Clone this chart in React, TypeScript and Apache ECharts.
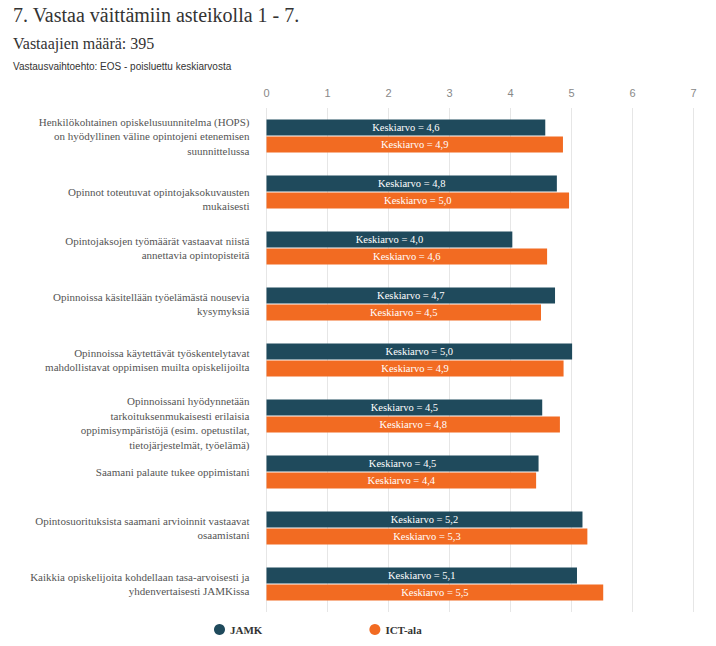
import React, { useEffect, useRef } from "react";
import * as echarts from "echarts";

const categories = [
  "Henkilökohtainen opiskelusuunnitelma (HOPS)\non hyödyllinen väline opintojeni etenemisen\nsuunnittelussa",
  "Opinnot toteutuvat opintojaksokuvausten\nmukaisesti",
  "Opintojaksojen työmäärät vastaavat niistä\nannettavia opintopisteitä",
  "Opinnoissa käsitellään työelämästä nousevia\nkysymyksiä",
  "Opinnoissa käytettävät työskentelytavat\nmahdollistavat oppimisen muilta opiskelijoilta",
  "Opinnoissani hyödynnetään\ntarkoituksenmukaisesti erilaisia\noppimisympäristöjä (esim. opetustilat,\ntietojärjestelmät, työelämä)",
  "Saamani palaute tukee oppimistani",
  "Opintosuorituksista saamani arvioinnit vastaavat\nosaamistani",
  "Kaikkia opiskelijoita kohdellaan tasa-arvoisesti ja\nyhdenvertaisesti JAMKissa",
];

const jamkValues = [4.57, 4.76, 4.03, 4.73, 5.01, 4.52, 4.46, 5.18, 5.09];
const ictValues = [4.86, 4.96, 4.6, 4.5, 4.87, 4.81, 4.42, 5.26, 5.52];

const seriesNames = ["JAMK", "ICT-ala"];
const xTicks = [0, 1, 2, 3, 4, 5, 6, 7];

const titleText = "7. Vastaa väittämiin asteikolla 1 - 7.";
const subtitleText = "Vastaajien määrä: 395";
const noteText = "Vastausvaihtoehto: EOS - poisluettu keskiarvosta";

const DARK = "#1f4a5c";
const ORANGE = "#f26b22";
const SERIF = "'Liberation Serif', 'DejaVu Serif', serif";
const SANS = "'Liberation Sans', Arial, sans-serif";

// labels that sit a little lower than their band in the reference
const loweredLabels = [1, 5];

export default function App() {
  const ref = useRef<HTMLDivElement>(null);
  useEffect(() => {
    if (!ref.current) return;
    const chart = echarts.init(ref.current, undefined, { renderer: "svg" });
    const labelFmt = (p: any) => "Keskiarvo = " + Number(p.value).toFixed(1).replace(".", ",");
    chart.setOption({
      animation: false,
      backgroundColor: "#ffffff",
      graphic: [
        {
          type: "text",
          left: 13,
          top: 5,
          style: { text: titleText, font: `20px ${SERIF}`, fill: "#333333" },
        },
        {
          type: "text",
          left: 13,
          top: 35,
          style: { text: subtitleText, font: `16px ${SERIF}`, fill: "#333333" },
        },
        {
          type: "text",
          left: 13,
          top: 61,
          style: { text: noteText, font: `10px ${SANS}`, fill: "#333333" },
        },
      ],
      legend: {
        data: seriesNames,
        left: 209,
        top: 619,
        icon: "circle",
        itemWidth: 11,
        itemHeight: 11,
        itemGap: 107,
        textStyle: { fontFamily: SERIF, fontSize: 11, fontWeight: "bold", color: "#333333" },
      },
      grid: { left: 266.5, top: 108, width: 427, height: 504, containLabel: false },
      xAxis: {
        type: "value",
        position: "top",
        min: xTicks[0],
        max: xTicks[xTicks.length - 1],
        interval: 1,
        axisLine: { show: false },
        axisTick: { show: false },
        axisLabel: { color: "#888888", fontFamily: SANS, fontSize: 11, margin: 10 },
        splitLine: { show: true, lineStyle: { color: "#e6e6e6", width: 1 } },
      },
      yAxis: {
        type: "category",
        inverse: true,
        data: categories,
        axisLine: { show: false },
        axisTick: { show: false },
        axisLabel: {
          color: "#555555",
          fontFamily: SERIF,
          fontSize: 11,
          lineHeight: 14.5,
          margin: 17,
          align: "right",
          formatter: (v: string, i: number) =>
            loweredLabels.includes(i) ? "{sp| }\n" + v : v,
          rich: { sp: { lineHeight: 14, fontSize: 4 } },
        },
      },
      series: [
        {
          name: seriesNames[0],
          type: "bar",
          data: jamkValues,
          barWidth: 16,
          barGap: "6%",
          itemStyle: { color: DARK },
          label: {
            show: true,
            position: "inside",
            formatter: labelFmt,
            color: "#ffffff",
            fontFamily: SERIF,
            fontSize: 10.5,
          },
        },
        {
          name: seriesNames[1],
          type: "bar",
          data: ictValues,
          barWidth: 16,
          itemStyle: { color: ORANGE },
          label: {
            show: true,
            position: "inside",
            formatter: labelFmt,
            color: "#ffffff",
            fontFamily: SERIF,
            fontSize: 10.5,
          },
        },
      ],
    });
    return () => chart.dispose();
  }, []);
  return (
    <div
      ref={ref}
      style={{ position: "absolute", left: 0, top: 0, width: 716, height: 646 }}
    />
  );
}
